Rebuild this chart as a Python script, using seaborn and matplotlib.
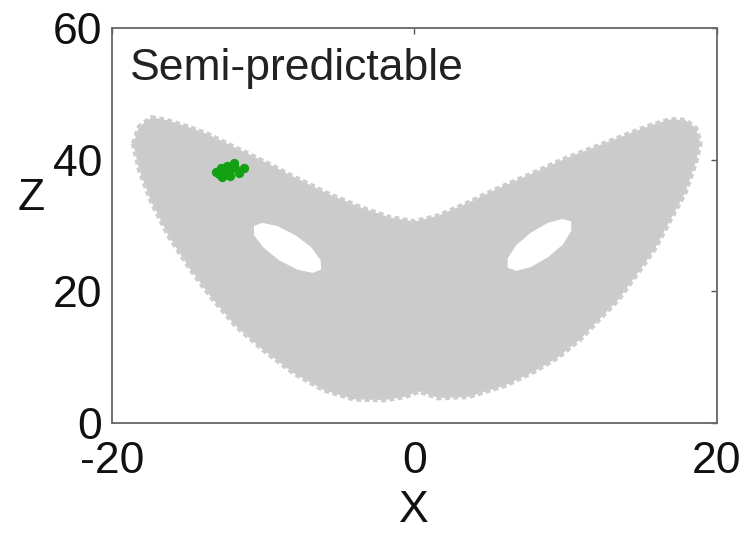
import numpy as np
import matplotlib
matplotlib.use("Agg")
import matplotlib.pyplot as plt
import seaborn as sns
import pandas as pd

# Outline of the gray attractor cloud (X, Z)
outline_x = [-18.6, -18.2, -17.4, -16.4, -15.0, -13.6, -12.0, -10.2, -8.0, -5.6, -3.4, -1.6, 0.0,
             1.6, 3.4, 5.6, 7.6, 9.8, 11.8, 13.8, 15.6, 16.9, 17.9, 18.6, 18.9, 18.6, 17.9, 16.9,
             15.9, 14.7, 13.5, 12.2, 11.0, 9.5, 7.9, 6.0, 3.6, 1.6, 0.3, -0.6, -2.0, -4.0, -6.0,
             -8.0, -10.0, -11.8, -13.4, -14.8, -16.2, -17.4, -18.2]
outline_z = [42.4, 45.0, 46.4, 46.0, 45.0, 43.8, 42.0, 40.0, 37.4, 34.7, 32.6, 31.2, 30.6,
             31.5, 33.3, 35.7, 37.7, 40.0, 41.8, 43.6, 45.2, 46.1, 46.0, 44.8, 42.6, 39.6, 35.0, 30.8,
             26.5, 22.6, 18.8, 15.7, 12.8, 10.0, 7.8, 5.7, 4.0, 3.8, 4.8, 4.0, 3.5, 3.6, 5.0,
             7.6, 11.1, 14.7, 19.0, 23.3, 28.2, 33.6, 38.5]

# Holes (X, Z)
hole_l_x = [-6.17, -6.73, -7.74, -8.94, -9.97, -10.6, -10.62, -10.07, -9.05, -7.86, -6.83, -6.2]
hole_l_z = [23.3, 22.8, 23.3, 24.7, 26.6, 28.5, 29.9, 30.4, 29.9, 28.5, 26.7, 24.7]
hole_r_x = [10.37, 10.37, 9.81, 8.84, 7.71, 6.73, 6.16, 6.16, 6.72, 7.69, 8.82, 9.8]
hole_r_z = [30.6, 29.2, 27.1, 25.2, 23.7, 23.1, 23.6, 25.0, 27.0, 28.9, 30.4, 31.0]

# Green cluster points (X, Z)
green_x = [-13.1, -12.8, -12.5, -12.2, -11.9, -11.6, -11.3, -12.7, -12.2, -11.9, -12.4, -12.9, -11.6, -12.3]
green_z = [38.1, 38.7, 37.8, 38.5, 39.1, 38.3, 38.7, 37.4, 37.5, 39.5, 39.1, 37.8, 38.0, 38.1]

title_text = "Semi-predictable"
xticks = [-20, 0, 20]
yticks = [0, 20, 40, 60]

sns.set_theme(style="white")
plt.rcParams["font.family"] = ["Liberation Sans", "DejaVu Sans"]

fig = plt.figure(figsize=(7.46, 5.37), dpi=100)
ax = fig.add_axes([0.1501, 0.2123, 0.811, 0.7356])

ax.fill(outline_x, outline_z, color="#cbcbcb", lw=0, zorder=1)
ax.plot(outline_x + outline_x[:1], outline_z + outline_z[:1], color="#cdcdcd", lw=3.5,
        dashes=(1.0, 0.7), zorder=1)
ax.fill(hole_l_x, hole_l_z, color="white", lw=0, zorder=2)
ax.fill(hole_r_x, hole_r_z, color="white", lw=0, zorder=2)

df = pd.DataFrame({"X": green_x, "Z": green_z})
sns.scatterplot(data=df, x="X", y="Z", ax=ax, color="#13a013", s=45, marker="o",
                edgecolor="#13a013", linewidth=0, zorder=3, legend=False)

ax.set_xlim(-20, 20)
ax.set_ylim(0, 60)
ax.set_xticks(xticks)
ax.set_yticks(yticks)
ax.set_xticklabels([str(v) for v in xticks], fontsize=32)
ax.set_yticklabels([str(v) for v in yticks], fontsize=32)
ax.tick_params(direction="in", length=4, width=1, color="#555555", top=True, right=True,
               labelcolor="#111111")
ax.tick_params(axis="y", pad=7)
ax.tick_params(axis="x", pad=13)
for s in ax.spines.values():
    s.set_color("#666666")
    s.set_linewidth(1.3)

ax.set_xlabel("")
ax.set_ylabel("")
fig.text(0.555, 0.05, "X", fontsize=32, ha="center", va="center", color="#111111")
fig.text(0.042, 0.63, "Z", fontsize=32, ha="center", va="center", color="#111111")
ax.text(-18.8, 53.9, title_text, fontsize=32, ha="left", va="center", color="#222222")

fig.savefig("out.png", dpi=100)
